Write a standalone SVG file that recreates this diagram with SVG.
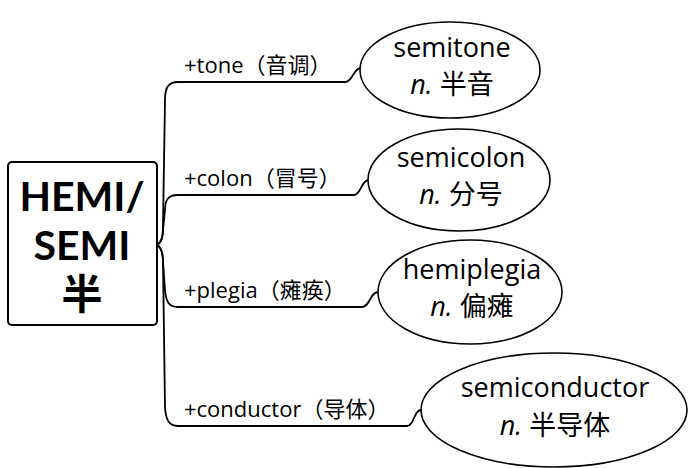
<svg xmlns="http://www.w3.org/2000/svg" width="689" height="468" viewBox="0 0 689 468">
<style>
text{font-family:"Open Sans","Noto Sans CJK SC",sans-serif;fill:#000}
.lab{font-size:22px}
.word{font-size:27px;text-anchor:middle}
.it{font-style:italic}
.root{font-family:Lato,"Noto Sans CJK SC",sans-serif;font-size:41px;font-weight:bold;text-anchor:middle}
.ell{fill:#fff;stroke:#000;stroke-width:1.6}
.con{fill:none;stroke:#000;stroke-width:1.8;stroke-linecap:round}
</style>
<rect width="689" height="468" fill="#fff"/>
<g id="connectors">
<path class="con" d="M157,245 C162,242 163,236 163,225 L165,100 C165,88 168,82 178,82 L345,82 C353,82 353,68 361,68"/>
<path class="con" d="M157,245 C162,242 163,236 163,230 L165,210 C165,200 168,195 178,195 L354,195 C361,195 361,180 369,180"/>
<path class="con" d="M157,245 C162,248 163,254 163,262 L165,290 C166,302 169,307 178,307 L362,307 C370,307 370,292 378,292"/>
<path class="con" d="M157,245 C162,248 163,254 163,262 L165,408 C166,420 169,426 178,426 L407,426 C414,426 414,410 421,410"/>
</g>
<g id="root">
<rect x="8" y="162" width="149" height="163" rx="4" fill="#fff" stroke="#000" stroke-width="2"/>
<text class="root" x="82" y="211">HEMI/<tspan x="82" dy="49">SEMI</tspan><tspan x="82" dy="49">半</tspan></text>
</g>
<g id="label-tone"><text class="lab" x="184" y="73">+tone（音调）</text></g>
<g id="label-colon"><text class="lab" x="184" y="186">+colon（冒号）</text></g>
<g id="label-plegia"><text class="lab" x="184" y="298">+plegia（瘫痪）</text></g>
<g id="label-conductor"><text class="lab" x="184" y="417">+conductor（导体）</text></g>
<g id="semitone">
<ellipse class="ell" cx="450" cy="70" rx="90" ry="48"/>
<text class="word" x="452" y="57">semitone</text>
<text class="word" x="452" y="94"><tspan class="it">n.</tspan> 半音</text>
</g>
<g id="semicolon">
<ellipse class="ell" cx="459" cy="180" rx="91" ry="51"/>
<text class="word" x="461" y="167">semicolon</text>
<text class="word" x="461" y="204"><tspan class="it">n.</tspan> 分号</text>
</g>
<g id="hemiplegia">
<ellipse class="ell" cx="470" cy="292" rx="92" ry="52"/>
<text class="word" x="472" y="279">hemiplegia</text>
<text class="word" x="472" y="316"><tspan class="it">n.</tspan> 偏瘫</text>
</g>
<g id="semiconductor">
<ellipse class="ell" cx="554" cy="410" rx="133" ry="57"/>
<text class="word" x="555" y="397">semiconductor</text>
<text class="word" x="555" y="435"><tspan class="it">n.</tspan> 半导体</text>
</g>
</svg>
